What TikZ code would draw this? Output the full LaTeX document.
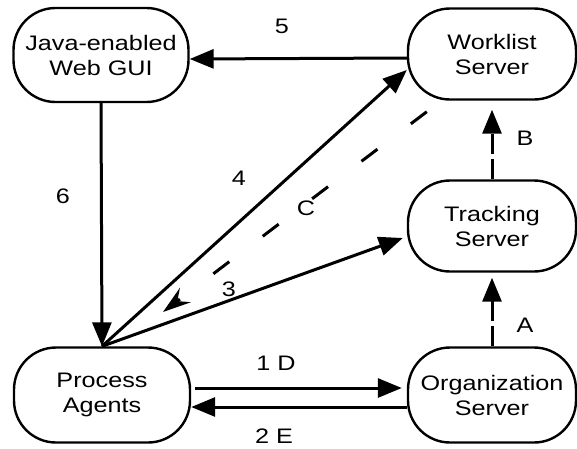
\documentclass[tikz,border=0pt]{standalone}
\usepackage{fontspec}
\setmainfont[FakeStretch=1.2]{Liberation Sans}
\usetikzlibrary{calc, arrows.meta}
\tikzstyle{server}=[
draw,
line width=2.4pt,
rounded corners=42pt,
minimum width=168pt,
minimum height=91pt,
align=center,
font=\fontsize{21}{25}\selectfont,
]
\tikzstyle{flow}=[
line width=3pt,
-{Triangle[length=24pt,width=19pt]},
]
\tikzstyle{dashflow}=[
flow,
dash pattern=on 20pt off 5pt,
]
\tikzstyle{flowlabel}=[
font=\fontsize{21}{25}\selectfont,
inner sep=1pt,
]
\begin{document}
\begin{tikzpicture}[x=1pt, y=-1pt]
        \useasboundingbox (0,0) rectangle (577,448);

        \node[server, minimum width=175pt, minimum height=94pt] (gui) at (101,55) {Java-enabled\\Web GUI};
        \node[server] (work) at (492,54) {Worklist\\Server};
        \node[server] (track) at (492,226) {Tracking\\Server};
        \node[server, minimum height=95pt] (org) at (492,395) {Organization\\Server};
        \node[server, minimum width=176pt, minimum height=95pt] (proc) at (102,395) {Process\\Agents};

        \coordinate (cstart) at ([shift={(20pt,-11pt)}]work.south west);
        \coordinate (cend) at (163,312);

        \draw[flow] ([yshift=-4pt]work.west) -- ([yshift=-4pt]gui.east);
        \draw[flow] (gui.south) -- (proc.north);
        \draw[flow] (proc.north) -- ([yshift=-16pt]work.west);
        \draw[flow] (proc.north) -- ([shift={(-4pt,-12pt)}]track.west);
        \draw[line width=3pt, dash pattern=on 20pt off 42pt,
          -{Stealth[length=28pt,width=18pt,inset=10pt]}] (cstart) -- (cend);
        \draw[dashflow, shorten >=9pt] (track.north) -- (work.south);
        \draw[dashflow, shorten >=5pt] (org.north) -- (track.south);
        \draw[flow, shorten <=4pt, shorten >=5pt] ([yshift=7pt]proc.east) -- ([yshift=7pt]org.west);
        \draw[flow] ([yshift=-12pt]org.west) -- ([yshift=-12pt]proc.east);

        \node[flowlabel] (l5) at (282,26) {5};
        \node[flowlabel] (l6) at (63,196) {6};
        \node[flowlabel] (l4) at (239,178) {4};
        \node[flowlabel] (lc) at (306,208) {C};
        \node[flowlabel] (l3) at (229,289) {3};
        \node[flowlabel] (lb) at (525,138) {B};
        \node[flowlabel] (la) at (525,325) {A};
        \node[flowlabel] (l1d) at (276,363) {1 D};
        \node[flowlabel] (l2e) at (274,436) {2 E};
      \end{tikzpicture}
\end{document}
